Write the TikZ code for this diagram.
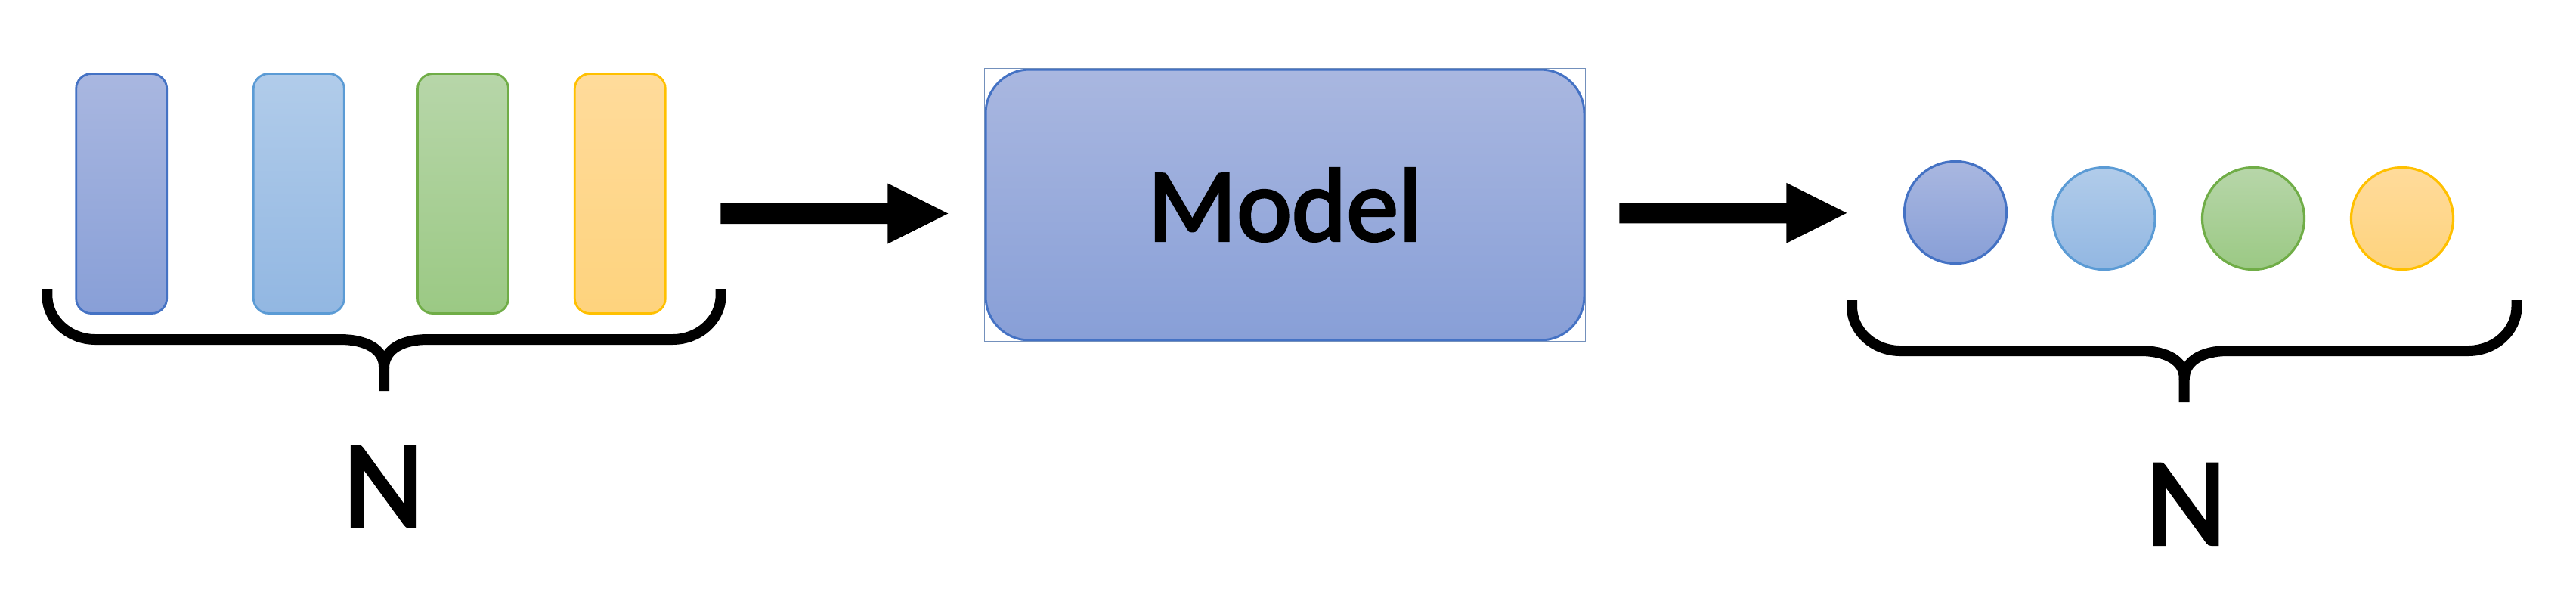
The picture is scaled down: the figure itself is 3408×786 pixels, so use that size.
\documentclass[tikz,border=0pt]{standalone}
\usepackage{fontspec}
\setmainfont{Carlito}
\newfontfamily\labelfont{Carlito}[FakeBold=2.4]
\usetikzlibrary{calc}
\definecolor{blueTop}{HTML}{A9B7E0}
\definecolor{blueBot}{HTML}{889FD7}
\definecolor{blueLine}{HTML}{4472C4}
\definecolor{lbTop}{HTML}{B1CCEA}
\definecolor{lbBot}{HTML}{92B7E2}
\definecolor{lbLine}{HTML}{5B9BD5}
\definecolor{grTop}{HTML}{B7D6A9}
\definecolor{grBot}{HTML}{9BC984}
\definecolor{grLine}{HTML}{70AD47}
\definecolor{goTop}{HTML}{FFDB9B}
\definecolor{goBot}{HTML}{FED37D}
\definecolor{goLine}{HTML}{FFC000}
\definecolor{frameLine}{HTML}{7390BC}
\newcommand\mybrace[4]{% left x, tip x, right x, top y
  \draw[bracestroke] (#1,#4) -- (#1,{#4+8}) .. controls (#1,{#4+42}) and ({#1+30},{#4+67}) .. ({#1+64},{#4+67})
    -- ({#2-58},{#4+67}) .. controls ({#2-24},{#4+67}) and (#2,{#4+80}) .. (#2,{#4+103}) -- (#2,{#4+135});
  \draw[bracestroke] (#3,#4) -- (#3,{#4+8}) .. controls (#3,{#4+42}) and ({#3-30},{#4+67}) .. ({#3-64},{#4+67})
    -- ({#2+58},{#4+67}) .. controls ({#2+24},{#4+67}) and (#2,{#4+80}) .. (#2,{#4+105});
}
\newcommand\blockarrow[2]{%
  \fill[arrowfill] ($(#1)+(0,-13.5)$) -- ($(#2)+(-80,-13.5)$) -- ($(#2)+(-80,-40)$) -- (#2)
    -- ($(#2)+(-80,40)$) -- ($(#2)+(-80,13.5)$) -- ($(#1)+(0,13.5)$) -- cycle;
}
\begin{document}
\begin{tikzpicture}[x=0.25pt,y=-0.25pt,
  bar/.style={draw, line width=0.7pt, rounded corners=5pt, minimum width=30pt, minimum height=79.25pt, inner sep=0pt},
  dot/.style={circle, draw, line width=0.8pt, minimum size=33.75pt, inner sep=0pt},
  bracestroke/.style={line width=3.5pt, line cap=butt, line join=round},
  arrowfill/.style={fill=black},
  label/.style={font=\labelfont\fontsize{41.5pt}{48pt}\selectfont, inner sep=0pt, anchor=base},
  modelbox/.style={draw=blueLine, line width=0.75pt, rounded corners=14.5pt, top color=blueTop, bottom color=blueBot,
     minimum width=198pt, minimum height=89.5pt, inner sep=0pt, font=\labelfont\fontsize{34.5pt}{40pt}\selectfont}
]
\useasboundingbox (0,0) rectangle (3408,786);
% inputs
\node[bar, draw=blueLine, top color=blueTop, bottom color=blueBot] (r1) at (160.7,256) {};
\node[bar, draw=lbLine, top color=lbTop, bottom color=lbBot] (r2) at (395.3,256) {};
\node[bar, draw=grLine, top color=grTop, bottom color=grBot] (r3) at (612.5,256) {};
\node[bar, draw=goLine, top color=goTop, bottom color=goBot] (r4) at (820.3,256) {};
\mybrace{62.3}{508}{953.7}{382}
\node[label] (n1) at (507.5,696.7) {N};
% model
\node[modelbox] (model) at (1700,271) {Model};
\draw[frameLine, line width=0.25pt] (model.south west) rectangle (model.north east);
% arrows
\coordinate (a1s) at (953.3,282.5);
\coordinate (a1e) at (1254.3,282.5);
\coordinate (a2s) at (2142.3,281.8);
\coordinate (a2e) at (2443.3,281.8);
\blockarrow{a1s}{a1e}
\blockarrow{a2s}{a2e}
% outputs
\node[dot, draw=blueLine, top color=blueTop, bottom color=blueBot] (c1) at (2587,281) {};
\node[dot, draw=lbLine, top color=lbTop, bottom color=lbBot] (c2) at (2783.5,289) {};
\node[dot, draw=grLine, top color=grTop, bottom color=grBot] (c3) at (2981,289) {};
\node[dot, draw=goLine, top color=goTop, bottom color=goBot] (c4) at (3178,289) {};
\mybrace{2450}{2889.7}{3329.5}{397}
\node[label] (n2) at (2891.7,720) {N};
\end{tikzpicture}
\end{document}
